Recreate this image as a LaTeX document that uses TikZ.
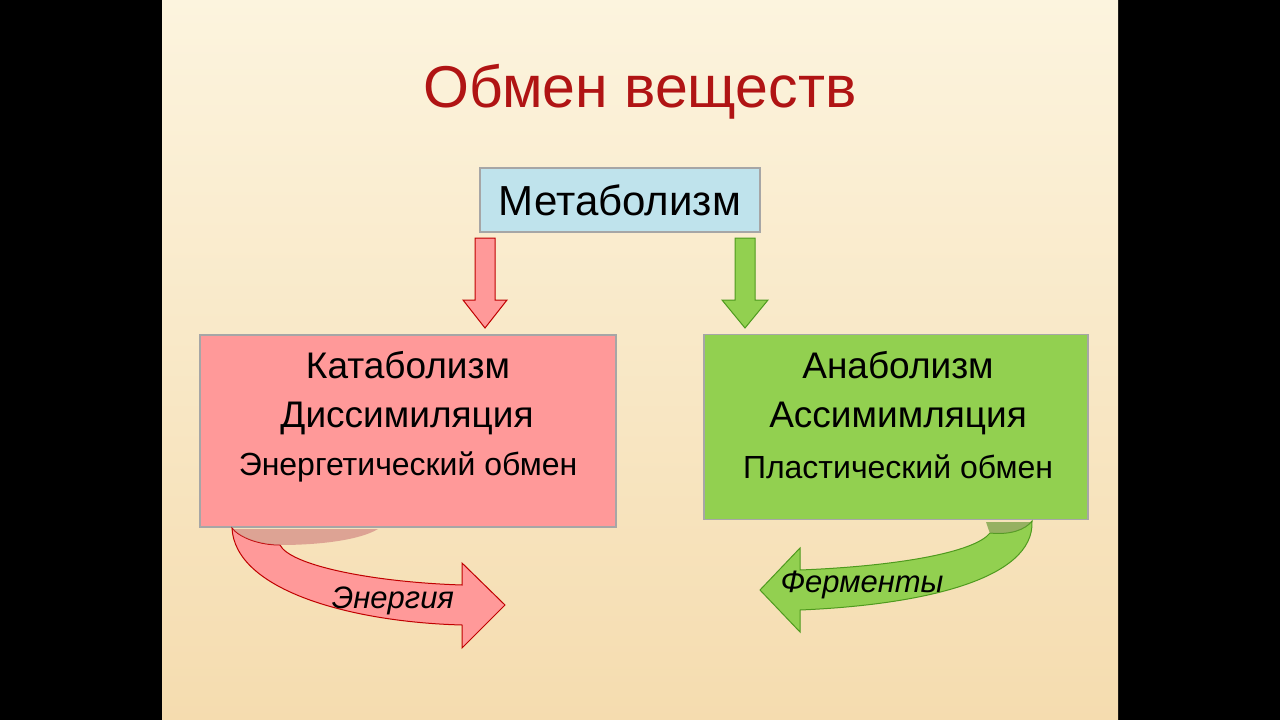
\documentclass[tikz,border=0pt]{standalone}
\usepackage{fontspec}
\setmainfont{Liberation Sans}
\definecolor{redf}{HTML}{FF9999}
\definecolor{redd}{HTML}{C00000}
\definecolor{greenf}{HTML}{92D050}
\definecolor{greend}{HTML}{4E9A1E}
\definecolor{bluef}{HTML}{BFE3EC}
\definecolor{titlec}{HTML}{B01414}
\tikzset{
 boxst/.style={draw=gray!70,line width=1.2pt},
 lbl/.style={font=\fontsize{37}{40}\selectfont},
 small/.style={font=\fontsize{32}{34}\selectfont},
 ital/.style={font=\fontsize{31}{33}\selectfont\itshape}
}
\begin{document}
\begin{tikzpicture}[x=1pt,y=-1pt]
\useasboundingbox (0,0) rectangle (1280,720);
\fill[black] (0,0) rectangle (1280,720);
\shade[top color={rgb,255:red,252;green,244;blue,222},bottom color={rgb,255:red,245;green,220;blue,175}] (162,0) rectangle (1118,720);
\node[text=titlec,font=\fontsize{59}{64}\selectfont] (title) at (640,92) {Обмен веществ};
\node[boxst,fill=bluef,minimum width=280pt,minimum height=64pt,font=\fontsize{42}{46}\selectfont] (meta) at (620,200) {Метаболизм};
% down arrows
\draw[redd,fill=redf,line width=1pt] (475,238) -- (495,238) -- (495,300) -- (507,300) -- (485,328) -- (463,300) -- (475,300) -- cycle;
\draw[greend,fill=greenf,line width=1pt] (735,238) -- (755,238) -- (755,300) -- (768,300) -- (745,328) -- (722,300) -- (735,300) -- cycle;
% left box
\node[boxst,fill=redf,minimum width=416pt,minimum height=192pt] (kat) at (408,431) {};
\node[lbl] (k1) at (408,365) {Катаболизм};
\node[lbl] (k2) at (407,418) {Диссимиляция};
\node[small] (k3) at (408,467) {Энергетический обмен};
% right box
\node[boxst,fill=greenf,minimum width=384pt,minimum height=185pt] (ana) at (896,427) {};
\node[lbl] (a1) at (898,365) {Анаболизм};
\node[lbl] (a2) at (898,418) {Ассимимляция};
\node[small] (a3) at (898,467) {Пластический обмен};
% left curved arrow
\draw[redd,fill=redf,line width=1pt] (232,528) .. controls (235,590) and (350,622) .. (462,625) -- (462,648) -- (505,605) -- (462,563) -- (462,585) .. controls (370,582) and (290,565) .. (280,545) .. controls (260,545) and (240,538) .. (232,528) -- cycle;
\fill[redf!80!black,opacity=0.6] (233,529) .. controls (245,542) and (270,545) .. (280,545) .. controls (320,545) and (360,540) .. (378,529) -- cycle;
\node[ital] (en) at (393,601) {Энергия};
% right curved arrow
\draw[greend,fill=greenf,line width=1pt] (1032,521) .. controls (1035,580) and (920,605) .. (800,610) -- (800,632) -- (760,590) -- (800,548) -- (800,570) .. controls (900,566) and (975,552) .. (990,533) .. controls (1010,535) and (1025,530) .. (1032,521) -- cycle;
\fill[greenf!75!black,opacity=0.7] (986,522) .. controls (988,528) and (989,531) .. (990,533) .. controls (1010,535) and (1025,530) .. (1031,522) -- cycle;
\node[ital] (fe) at (862,585) {Ферменты};
\end{tikzpicture}
\end{document}
